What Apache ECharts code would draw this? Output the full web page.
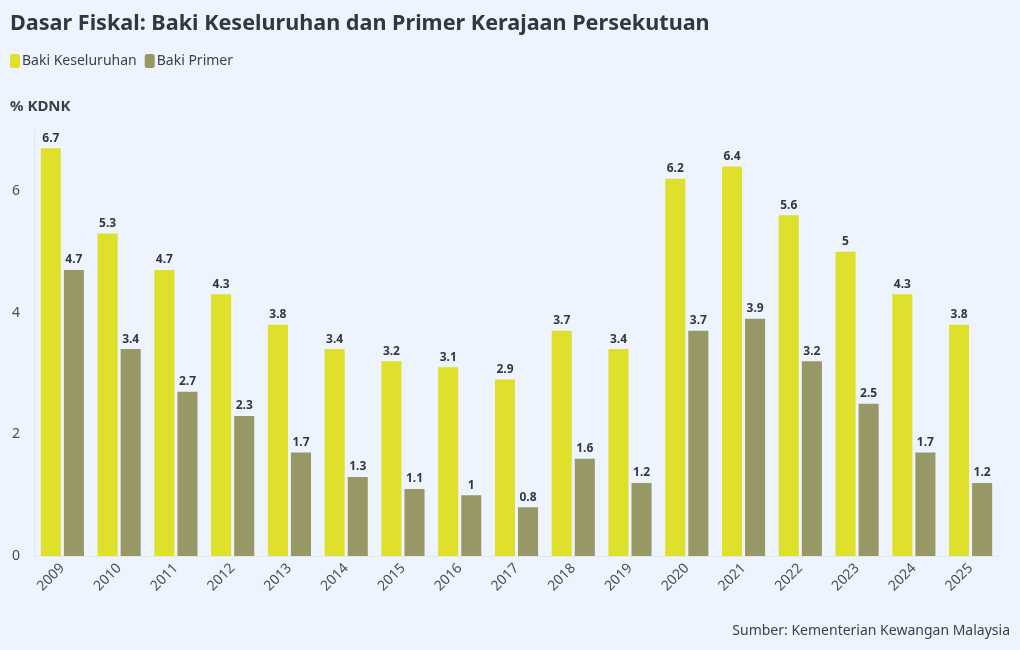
<!DOCTYPE html>
<html><head><meta charset="utf-8">
<script src="https://cdn.jsdelivr.net/npm/echarts@6/dist/echarts.min.js"></script>
<style>html,body{margin:0;padding:0;background:#eef4fd;}#c{width:1020px;height:650px;}</style>
</head><body><div id="c"></div>
<script>
const categories = ['2009','2010','2011','2012','2013','2014','2015','2016','2017','2018','2019','2020','2021','2022','2023','2024','2025'];
const bakiKeseluruhan = [6.7,5.3,4.7,4.3,3.8,3.4,3.2,3.1,2.9,3.7,3.4,6.2,6.4,5.6,5,4.3,3.8];
const bakiPrimer = [4.7,3.4,2.7,2.3,1.7,1.3,1.1,1,0.8,1.6,1.2,3.7,3.9,3.2,2.5,1.7,1.2];
const yTicks = [0,2,4,6];
const FONT = '"Noto Sans", sans-serif';
const chart = echarts.init(document.getElementById('c'), null, {renderer:'canvas'});
const lbl = {show:true, position:'top', distance:4, color:'#333740', fontFamily:FONT, fontWeight:'bold', fontSize:12};
chart.setOption({
  backgroundColor:'#eef4fd',
  animation:false,
  title:[
    {text:'Dasar Fiskal: Baki Keseluruhan dan Primer Kerajaan Persekutuan', left:10, top:13, padding:0,
     textStyle:{fontFamily:FONT, fontWeight:'bold', fontSize:21.6, color:'#333740'}},
    {text:'% KDNK', left:10, top:99, padding:0, textStyle:{fontFamily:FONT, fontWeight:'bold', fontSize:15, color:'#3c3f48'}},
    {text:'Sumber: Kementerian Kewangan Malaysia', right:10, top:624, padding:0, textStyle:{fontFamily:FONT, fontWeight:'normal', fontSize:14, color:'#3c3f48'}}
  ],
  legend:{left:10, top:54, padding:0, itemWidth:10, itemHeight:14, itemGap:8, icon:'roundRect',
    textStyle:{fontFamily:FONT, fontSize:14, color:'#3c3f48', padding:[0,0,0,-3]},
    data:['Baki Keseluruhan','Baki Primer']},
  grid:{left:34, right:21, top:130, bottom:94},
  xAxis:{type:'category', data:categories,
    axisLine:{show:true, lineStyle:{color:'#e3e8f0'}}, axisTick:{show:false},
    axisLabel:{rotate:45, color:'#4a4d57', fontFamily:FONT, fontSize:14, margin:10}},
  yAxis:{type:'value', min:0, max:7, interval:2,
    axisLine:{show:true, lineStyle:{color:'#e3e8f0'}}, axisTick:{show:false}, splitLine:{show:false},
    axisLabel:{showMaxLabel:false, color:'#4a4d57', fontFamily:FONT, fontSize:14, margin:14,
      formatter:v=>yTicks.includes(v)?String(v):''}},
  series:[
    {name:'Baki Keseluruhan', type:'bar', data:bakiKeseluruhan, barGap:'15%', barCategoryGap:'24%',
     itemStyle:{color:'#dfe02c'}, label:lbl},
    {name:'Baki Primer', type:'bar', data:bakiPrimer,
     itemStyle:{color:'#979865'}, label:lbl}
  ]
});
</script></body></html>
